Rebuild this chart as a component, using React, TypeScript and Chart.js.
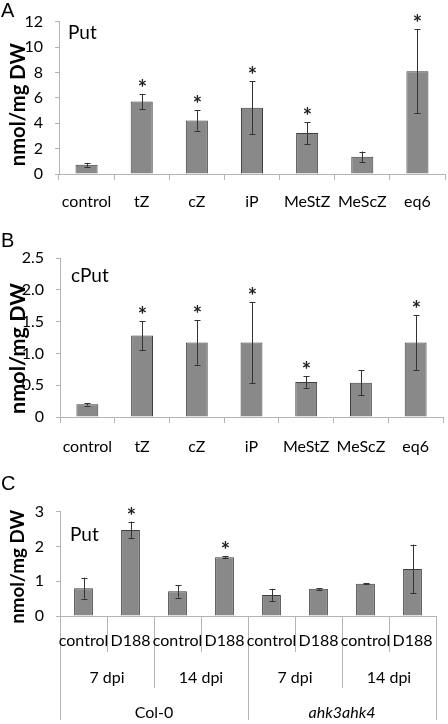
import React, { useEffect, useRef } from "react";
import { Chart, registerables } from "chart.js";

Chart.register(...registerables);

// ---------- data ----------
const treatmentsAB = ["control", "tZ", "cZ", "iP", "MeStZ", "MeScZ", "eq6"];

const putA = [0.72, 5.71, 4.22, 5.22, 3.22, 1.36, 8.1];
const putAErr = [0.15, 0.6, 0.8, 2.1, 0.87, 0.41, 3.3];
const putASig = [false, true, true, true, true, false, true];

const cputB = [0.2, 1.28, 1.17, 1.17, 0.55, 0.54, 1.17];
const cputBErr = [0.02, 0.23, 0.35, 0.64, 0.09, 0.2, 0.43];
const cputBSig = [false, true, true, true, true, false, true];

const treatmentsC = ["control", "D188", "control", "D188", "control", "D188", "control", "D188"];
const timepointsC = ["7 dpi", "14 dpi", "7 dpi", "14 dpi"];
const genotypesC = ["Col-0", "ahk3ahk4"];
const putC = [0.8, 2.47, 0.71, 1.69, 0.6, 0.78, 0.93, 1.35];
const putCErr = [0.3, 0.24, 0.18, 0.03, 0.18, 0.02, 0.01, 0.7];
const putCSig = [false, true, false, true, false, false, false, false];

const yRangeA = { max: 12, step: 2 };
const yRangeB = { max: 2.5, step: 0.5 };
const yRangeC = { max: 3, step: 1 };

const yTitle = "nmol/mg DW";

// ---------- styles ----------
const FONT = "Lato";
const AXIS_GRAY = "#b4b4b4";
const BAR_FILL = "#898989";
const BAR_BORDER = "#3f3f3f";
const ERR_COLOR = "#333333";

type PanelOpts = {
  name: string;
  values: number[];
  errors: number[];
  sig: boolean[];
  yTitleLen: number;
  yTitleShift: number;
  insideBaseline: number;
  insideLeft: number;
};

function makeAnnotPlugin(o: PanelOpts) {
  return {
    id: "annot_" + o.name.replace(/\W/g, ""),
    afterDatasetsDraw(chart: any) {
      const ctx = chart.ctx;
      const yScale = chart.scales.y;
      const meta = chart.getDatasetMeta(0);
      ctx.save();
      ctx.strokeStyle = ERR_COLOR;
      ctx.lineWidth = 1;
      meta.data.forEach((el: any, i: number) => {
        const x = Math.round(el.x) + 0.5;
        const yT = yScale.getPixelForValue(o.values[i] + o.errors[i]);
        const yB = yScale.getPixelForValue(o.values[i] - o.errors[i]);
        ctx.beginPath();
        ctx.moveTo(x, yT);
        ctx.lineTo(x, yB);
        ctx.moveTo(x - 3, Math.round(yT) + 0.5);
        ctx.lineTo(x + 3, Math.round(yT) + 0.5);
        ctx.moveTo(x - 3, Math.round(yB) + 0.5);
        ctx.lineTo(x + 3, Math.round(yB) + 0.5);
        ctx.stroke();
        if (o.sig[i]) {
          ctx.fillStyle = "#222";
          ctx.font = `bold 22px ${FONT}`;
          ctx.textAlign = "center";
          ctx.textBaseline = "alphabetic";
          ctx.fillText("*", x, yT + 2);
        }
      });
      // inside label
      const area = chart.chartArea;
      ctx.fillStyle = "#000";
      ctx.font = `19px ${FONT}`;
      ctx.textAlign = "left";
      ctx.textBaseline = "alphabetic";
      ctx.fillText(o.name, area.left + o.insideLeft, area.top + o.insideBaseline);
      // y title, sized to the reference length
      ctx.font = `bold 20px ${FONT}`;
      const w = ctx.measureText(yTitle).width;
      const size = (20 * o.yTitleLen) / w;
      ctx.translate(18, (area.top + area.bottom) / 2 + o.yTitleShift);
      ctx.rotate(-Math.PI / 2);
      ctx.font = `bold ${size.toFixed(1)}px ${FONT}`;
      ctx.textAlign = "center";
      ctx.textBaseline = "middle";
      ctx.fillText(yTitle, 0, 0);
      ctx.restore();
    },
  };
}

function yScaleOpts(range: { max: number; step: number }, decimals: number, width: number) {
  return {
    min: 0,
    max: range.max,
    border: { display: true, color: AXIS_GRAY, width: 1 },
    grid: { drawOnChartArea: false, tickLength: 4, color: AXIS_GRAY },
    ticks: {
      stepSize: range.step,
      padding: 12,
      color: "#000",
      font: { family: FONT, size: 16 },
      callback: (v: any) => (Number(v) === 0 ? "0" : Number(v).toFixed(decimals)),
    },
    afterFit: (s: any) => {
      s.width = width;
    },
  };
}

function barDataset(values: number[]) {
  return {
    data: values,
    backgroundColor: BAR_FILL,
    borderColor: BAR_BORDER,
    borderWidth: 1,
    categoryPercentage: 1,
    barPercentage: 0.4,
  };
}

const xTicksBase = { color: "#000", maxRotation: 0, minRotation: 0, autoSkip: false };

function configA() {
  return {
    type: "bar",
    data: { labels: treatmentsAB, datasets: [barDataset(putA)] },
    options: {
      responsive: false,
      animation: false,
      layout: { padding: { top: 15, right: 3, bottom: 0, left: 0 } },
      plugins: { legend: { display: false }, tooltip: { enabled: false } },
      scales: {
        x: {
          border: { display: true, color: AXIS_GRAY },
          grid: { offset: true, drawOnChartArea: false, tickLength: 6, color: AXIS_GRAY },
          ticks: { ...xTicksBase, padding: 12, font: { family: FONT, size: 16 } },
          afterFit: (s: any) => {
            s.height = 41;
          },
        },
        y: yScaleOpts(yRangeA, 0, 59),
      },
    },
    plugins: [
      makeAnnotPlugin({
        name: "Put",
        values: putA,
        errors: putAErr,
        sig: putASig,
        yTitleLen: 123,
        yTitleShift: 7,
        insideBaseline: 17,
        insideLeft: 9,
      }),
    ],
  };
}

function configB() {
  return {
    type: "bar",
    data: { labels: treatmentsAB, datasets: [barDataset(cputB)] },
    options: {
      responsive: false,
      animation: false,
      layout: { padding: { top: 40, right: 5, bottom: 0, left: 0 } },
      plugins: { legend: { display: false }, tooltip: { enabled: false } },
      scales: {
        x: {
          border: { display: true, color: AXIS_GRAY },
          grid: { offset: true, drawOnChartArea: false, tickLength: 6, color: AXIS_GRAY },
          ticks: { ...xTicksBase, padding: 14, font: { family: FONT, size: 16 } },
          afterFit: (s: any) => {
            s.height = 38;
          },
        },
        y: yScaleOpts(yRangeB, 1, 60),
      },
    },
    plugins: [
      makeAnnotPlugin({
        name: "cPut",
        values: cputB,
        errors: cputBErr,
        sig: cputBSig,
        yTitleLen: 131,
        yTitleShift: 11,
        insideBaseline: 24,
        insideLeft: 11,
      }),
    ],
  };
}

function configC() {
  const lvl = (labels: string[] | null, tl: number, pad: number, h: number, weight: number, italicIdx: number) => ({
    type: "category",
    position: "bottom",
    weight,
    ...(labels ? { labels } : {}),
    border: { display: weight === 0, color: AXIS_GRAY },
    grid: { offset: true, drawOnChartArea: false, tickLength: tl, color: AXIS_GRAY },
    ticks: {
      ...xTicksBase,
      padding: pad,
      font: (c: any) => ({ family: FONT, size: 16, style: c.index === italicIdx ? "italic" : "normal" }),
    },
    afterFit: (s: any) => {
      s.height = h;
    },
  });
  return {
    type: "bar",
    data: { labels: treatmentsC, datasets: [barDataset(putC)] },
    options: {
      responsive: false,
      animation: false,
      layout: { padding: { top: 18, right: 12, bottom: 0, left: 0 } },
      plugins: { legend: { display: false }, tooltip: { enabled: false } },
      scales: {
        x: lvl(null, 36, -21, 36, 0, -1),
        x2: lvl(timepointsC, 36, -20, 36, 1, -1),
        x3: lvl(genotypesC, 32, -17, 36, 2, 1),
        y: yScaleOpts(yRangeC, 0, 60),
      },
    },
    plugins: [
      makeAnnotPlugin({
        name: "Put",
        values: putC,
        errors: putCErr,
        sig: putCSig,
        yTitleLen: 114,
        yTitleShift: 3,
        insideBaseline: 29,
        insideLeft: 10,
      }),
    ],
  };
}

function Panel({ make, top, height }: { make: () => any; top: number; height: number }) {
  const ref = useRef<HTMLCanvasElement>(null);
  useEffect(() => {
    const chart = new Chart(ref.current as HTMLCanvasElement, make() as any);
    return () => chart.destroy();
  }, []);
  return (
    <canvas
      ref={ref}
      width={448}
      height={height}
      style={{ position: "absolute", left: 0, top, width: 448, height, display: "block" }}
    />
  );
}

const letterStyle = (top: number): React.CSSProperties => ({
  position: "absolute",
  left: 1,
  top,
  fontFamily: "'Liberation Sans', Arial, sans-serif",
  fontSize: 20,
  lineHeight: "20px",
  color: "#000",
});

export default function App() {
  return (
    <div
      style={{
        position: "fixed",
        left: 0,
        top: 0,
        width: 448,
        height: 724,
        background: "#fff",
        overflow: "hidden",
      }}
    >
      <Panel make={configA} top={0} height={215} />
      <Panel make={configB} top={218} height={237} />
      <Panel make={configC} top={490} height={234} />
      <div style={letterStyle(0)}>A</div>
      <div style={letterStyle(230)}>B</div>
      <div style={letterStyle(473)}>C</div>
    </div>
  );
}
